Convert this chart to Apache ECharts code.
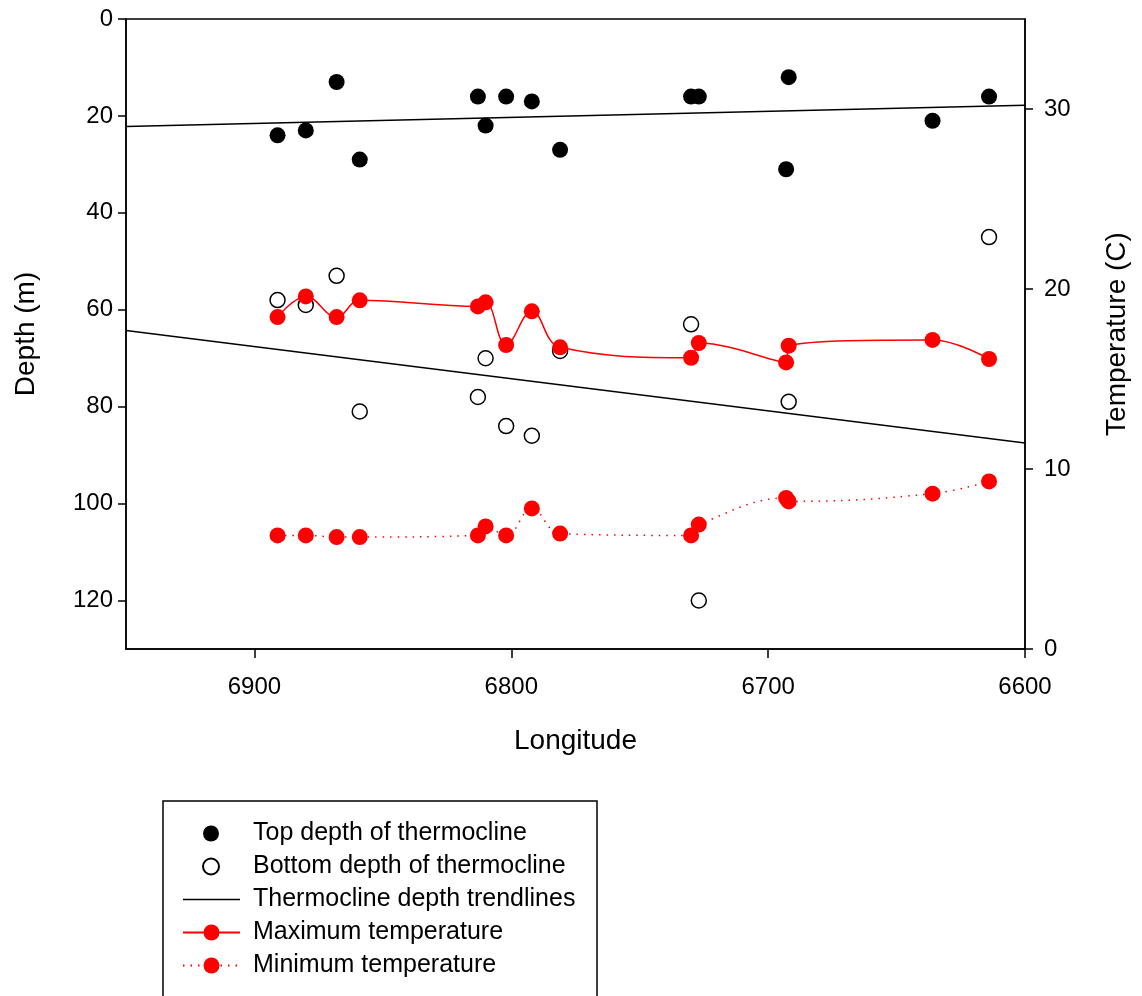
<!DOCTYPE html>
<html>
<head>
<meta charset="utf-8">
<title>Thermocline depth and temperature by longitude</title>
<script src="https://cdn.jsdelivr.net/npm/echarts@6/dist/echarts.min.js"></script>
<style>
  html, body { margin: 0; padding: 0; background: #fff; }
  #chart { width: 1142px; height: 996px; }
</style>
</head>
<body>
<div id="chart"></div>
<script>
// 数据：经度（从左到右递减）
var topLon = [6891, 6880, 6868, 6859, 6813, 6810, 6802, 6792, 6781, 6730, 6727, 6693, 6692, 6636, 6614]
var topDepth = [24, 23, 13, 29, 16, 22, 16, 17, 27, 16, 16, 31, 12, 21, 16]

var bottomLon = [6891, 6880, 6868, 6859, 6813, 6810, 6802, 6792, 6781, 6730, 6727, 6692, 6614]
var bottomDepth = [58, 59, 53, 81, 78, 70, 84, 86, 68.5, 63, 120, 79, 45]

var tempLon = [6891, 6880, 6868, 6859, 6813, 6810, 6802, 6792, 6781, 6730, 6727, 6693, 6692, 6636, 6614]
var maxTemp = [18.44, 19.59, 18.44, 19.37, 19.03, 19.26, 16.89, 18.76, 16.76, 16.18, 17.0, 15.92, 16.85, 17.17, 16.11]
var minTemp = [6.31, 6.31, 6.22, 6.22, 6.31, 6.81, 6.31, 7.81, 6.41, 6.31, 6.91, 8.39, 8.2, 8.63, 9.31]

// 趋势线端点
var trendLon = [6950, 6600]
var topTrend = [22.2, 17.8]
var bottomTrend = [64.3, 87.5]

var lonTicks = [6600, 6700, 6800, 6900]
var depthTicks = [0, 20, 40, 60, 80, 100, 120]
var tempTicks = [0, 10, 20, 30]

function pairs(xs, ys) {
	return xs.map(function (x, i) {
		return [x, ys[i]]
	})
}

var FONT = 'Liberation Sans'
var axisLineStyle = { color: '#000', width: 1.5 }

var myChart = echarts.init(document.getElementById('chart'))
myChart.setOption({
	animation: false,
	textStyle: { fontFamily: FONT },
	grid: {
		left: 126,
		top: 19,
		right: 117,
		bottom: 347,
		show: true,
		borderColor: '#000',
		borderWidth: 1.5,
	},
	xAxis: {
		type: 'value',
		min: 6600,
		max: 6950,
		inverse: true,
		name: 'Longitude',
		nameLocation: 'middle',
		nameGap: 78,
		nameTextStyle: { fontSize: 28, color: '#000', fontFamily: FONT },
		splitLine: { show: false },
		axisLine: { onZero: false, lineStyle: axisLineStyle },
		axisTick: { length: 9, lineStyle: axisLineStyle, customValues: lonTicks },
		axisLabel: {
			fontSize: 24,
			color: '#000',
			margin: 26,
			customValues: lonTicks,
			formatter: function (v) {
				return String(v)
			},
		},
	},
	yAxis: [
		{
			type: 'value',
			min: 0,
			max: 130,
			inverse: true,
			name: 'Depth (m)',
			nameLocation: 'middle',
			nameGap: 86,
			nameTextStyle: { fontSize: 28, color: '#000', fontFamily: FONT },
			splitLine: { show: false },
			axisLine: { show: true, onZero: false, lineStyle: axisLineStyle },
			axisTick: { show: true, length: 8, lineStyle: axisLineStyle, customValues: depthTicks },
			axisLabel: { fontSize: 24, color: '#000', margin: 13, customValues: depthTicks },
		},
		{
			type: 'value',
			min: 0,
			max: 35,
			position: 'right',
			name: 'Temperature (C)',
			nameLocation: 'middle',
			nameGap: 78,
			nameTextStyle: { fontSize: 28, color: '#000', fontFamily: FONT },
			splitLine: { show: false },
			axisLine: { show: true, onZero: false, lineStyle: axisLineStyle },
			axisTick: { show: true, length: 8, lineStyle: axisLineStyle, customValues: tempTicks },
			axisLabel: { fontSize: 24, color: '#000', margin: 19, customValues: tempTicks },
		},
	],
	legend: [
		{
			orient: 'vertical',
			left: 202,
			top: 817,
			padding: 0,
			itemGap: 0,
			itemWidth: 16,
			itemHeight: 16,
			textStyle: { fontSize: 25, color: '#000', lineHeight: 33, fontFamily: FONT, padding: [0, 0, 0, 29] },
			data: ['Top depth of thermocline', 'Bottom depth of thermocline'],
		},
		{
			orient: 'vertical',
			left: 182,
			top: 883,
			padding: 0,
			itemGap: 0,
			itemWidth: 57,
			itemHeight: 20,
			textStyle: { fontSize: 25, color: '#000', lineHeight: 33, fontFamily: FONT, padding: [0, 0, 0, 8] },
			data: [
				{ name: 'Thermocline depth trendlines', icon: 'path://M0,0H57V1.5H0Z' },
				'Maximum temperature',
				'Minimum temperature',
			],
		},
	],
	// 图例外框（底边超出画布）
	graphic: [
		{
			type: 'rect',
			shape: { x: 163, y: 801, width: 434, height: 240 },
			style: { fill: 'none', stroke: '#000', lineWidth: 1.5 },
			z: -1,
		},
	],
	series: [
		{
			name: 'Top depth of thermocline',
			type: 'scatter',
			yAxisIndex: 0,
			symbol: 'circle',
			symbolSize: 16,
			itemStyle: { color: '#000', opacity: 1 },
			data: pairs(topLon, topDepth),
			z: 2,
		},
		{
			name: 'Bottom depth of thermocline',
			type: 'scatter',
			yAxisIndex: 0,
			symbol: 'circle',
			symbolSize: 15,
			itemStyle: { color: '#fff', borderColor: '#000', borderWidth: 1.5, opacity: 1 },
			data: pairs(bottomLon, bottomDepth),
			z: 2,
		},
		{
			name: 'Thermocline depth trendlines',
			type: 'line',
			yAxisIndex: 0,
			symbol: 'none',
			lineStyle: { color: '#000', width: 1.5 },
			itemStyle: { color: '#000' },
			data: pairs(trendLon, topTrend),
			z: 3,
		},
		{
			name: 'Thermocline depth trendlines',
			type: 'line',
			yAxisIndex: 0,
			symbol: 'none',
			lineStyle: { color: '#000', width: 1.5 },
			itemStyle: { color: '#000' },
			data: pairs(trendLon, bottomTrend),
			z: 3,
		},
		{
			name: 'Maximum temperature',
			type: 'line',
			yAxisIndex: 1,
			smooth: 0.4,
			symbol: 'circle',
			symbolSize: 16,
			lineStyle: { color: '#ff0000', width: 1.5 },
			itemStyle: { color: '#ff0000' },
			data: pairs(tempLon, maxTemp),
			z: 4,
		},
		{
			name: 'Minimum temperature',
			type: 'line',
			yAxisIndex: 1,
			smooth: 0.4,
			symbol: 'circle',
			symbolSize: 16,
			lineStyle: { color: '#ff0000', width: 1.5, type: [1.5, 6] },
			itemStyle: { color: '#ff0000' },
			data: pairs(tempLon, minTemp),
			z: 4,
		},
	],
})
</script>
</body>
</html>
